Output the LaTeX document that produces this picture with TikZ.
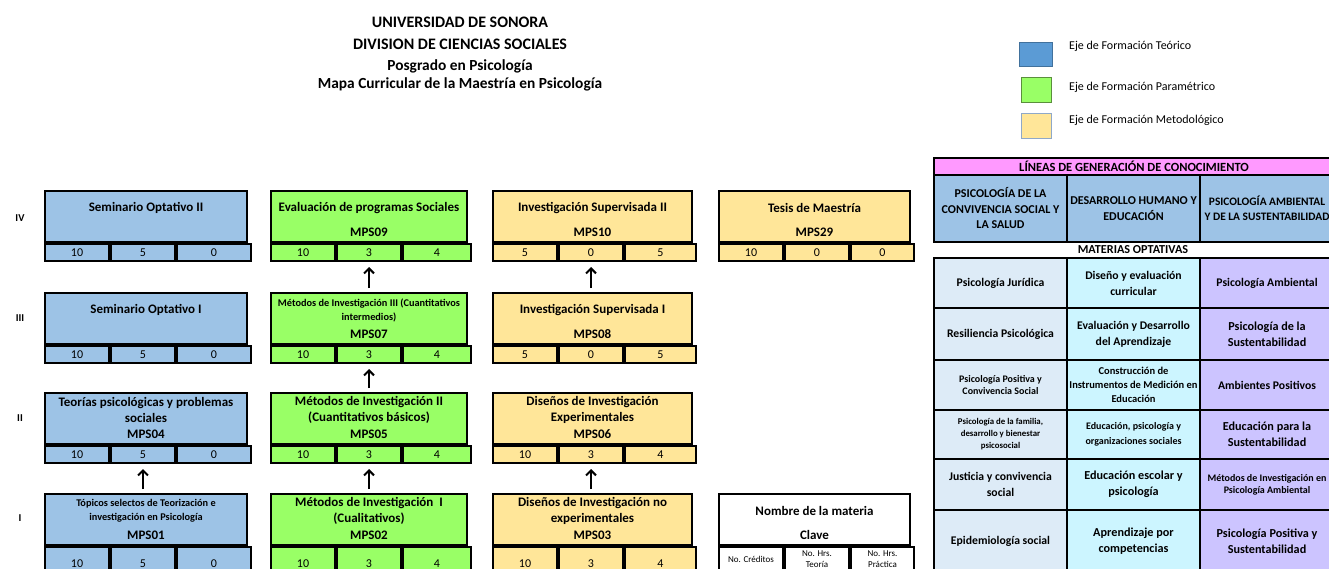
\documentclass[tikz,border=0pt]{standalone}
\usepackage{fontspec}
\setmainfont{Carlito}
\usetikzlibrary{arrows.meta}
\definecolor{tblue}{HTML}{9DC3E6}
\definecolor{tgreen}{HTML}{99FF66}
\definecolor{tyellow}{HTML}{FFE699}
\definecolor{legblue}{HTML}{5B9BD5}
\definecolor{legblueb}{HTML}{41719C}
\definecolor{leggreenb}{HTML}{5A8F3C}
\definecolor{legyellowb}{HTML}{8FA8C8}
\definecolor{pinkh}{HTML}{FF99FF}
\definecolor{colA}{HTML}{DDEBF7}
\definecolor{colB}{HTML}{CCF5FF}
\definecolor{colC}{HTML}{CCC4FF}
\tikzset{
 box/.style={draw, line width=2pt, inner sep=0pt, anchor=north west, minimum height=51},
 cellbox/.style={draw, line width=2pt, inner sep=0pt, anchor=north west, font=\fontsize{12}{14}\selectfont},
 ttl/.style={font=\bfseries\fontsize{13}{16}\selectfont, align=center, inner sep=0pt},
 ttls/.style={font=\bfseries\fontsize{10.3}{14}\selectfont, align=center, inner sep=0pt},
 code/.style={font=\bfseries\fontsize{13}{15}\selectfont, inner sep=0pt},
 arr/.style={-{Straight Barb[length=5pt,width=10pt,line width=2pt]}, line width=2pt, shorten <=4pt, shorten >=5pt},
 rl/.style={font=\bfseries\fontsize{10.5}{12}\selectfont},
 titA/.style={font=\bfseries\fontsize{16}{18}\selectfont},
 titB/.style={font=\bfseries\fontsize{15.4}{18}\selectfont},
 legsq/.style={line width=0.8pt, inner sep=0pt, anchor=north west},
 legtxt/.style={font=\fontsize{12}{14}\selectfont, anchor=west, inner sep=0pt},
 tc/.style={draw, line width=2pt, anchor=north west, align=center, inner sep=1pt},
 ftA/.style={font=\bfseries\fontsize{11.7}{16}\selectfont},
 ftB/.style={font=\bfseries\fontsize{10}{12}\selectfont},
 ftC/.style={font=\bfseries\fontsize{10.5}{14}\selectfont},
 ftD/.style={font=\bfseries\fontsize{8.8}{12}\selectfont},
 ftE/.style={font=\bfseries\fontsize{10}{15}\selectfont},
 ftF/.style={font=\bfseries\fontsize{12.2}{16}\selectfont},
 ftH/.style={font=\bfseries\fontsize{12}{15.5}\selectfont},
 ftHs/.style={font=\bfseries\fontsize{11.4}{15.5}\selectfont},
 smallcell/.style={draw, line width=2pt, inner sep=0pt, anchor=north west, align=center, font=\fontsize{9}{11}\selectfont, minimum height=25},
}
\newcommand\course[8]{%
 \node[box, fill=#5, minimum width=#4] (#1) at (#2,#3) {};
 \node[#6] (#1-t) at ([yshift=-18pt]#1.north) {#7};
 \node[code] (#1-k) at ([yshift=-42pt]#1.north) {#8};
}
\newcommand\cells[7]{%
 \node[cellbox, fill=#2, minimum width=64, minimum height=#3] (#1-a) at (#1.south west) {#5};
 \node[cellbox, fill=#2, minimum width=64, minimum height=#3] (#1-b) at (#1-a.north east) {#6};
 \node[cellbox, fill=#2, minimum width=#4, minimum height=#3] (#1-c) at (#1-b.north east) {#7};
}
\newcommand\orow[9]{%
 \node[tc, fill=colA, minimum width=133, minimum height=#3, #4] (#1a) at (933,#2) {#5};
 \node[tc, fill=colB, minimum width=133, minimum height=#3, #6] (#1b) at (1066,#2) {#7};
 \node[tc, fill=colC, minimum width=134, minimum height=#3, #8] (#1c) at (1199,#2) {#9};
}
\begin{document}
\begin{tikzpicture}[x=1pt,y=-1pt]
\useasboundingbox (0,0) rectangle (1329,569);
\clip (0,0) rectangle (1329,569);
% title
\node[titA] (t1) at (460,22) {UNIVERSIDAD DE SONORA};
\node[titA] (t2) at (460,44) {DIVISION DE CIENCIAS SOCIALES};
\node[titB] (t3) at (460,66) {Posgrado en Psicología};
\node[titB] (t4) at (460,84) {Mapa Curricular de la Maestría en Psicología};
% legend
\node[legsq, draw=legblueb, fill=legblue, minimum width=33, minimum height=24] (lg1) at (1019,42) {};
\node[legtxt] (lg1t) at (1069,46) {Eje de Formación Teórico};
\node[legsq, draw=leggreenb, fill=tgreen, minimum width=30, minimum height=25] (lg2) at (1021,77) {};
\node[legtxt] (lg2t) at (1069,87) {Eje de Formación Paramétrico};
\node[legsq, draw=legyellowb, fill=tyellow, minimum width=30, minimum height=25] (lg3) at (1021,113) {};
\node[legtxt] (lg3t) at (1069,120) {Eje de Formación Metodológico};
% row labels
\node[rl] (rIV) at (20,218) {IV};
\node[rl] (rIII) at (20,318) {III};
\node[rl] (rII) at (20,418) {II};
\node[rl] (rI) at (20,518) {I};
% row IV
\course{so2}{44}{190}{202}{tblue}{ttl}{Seminario Optativo II}{}
\cells{so2}{tblue}{17}{74}{10}{5}{0}
\course{mps09}{270}{190}{196}{tgreen}{ttl}{Evaluación de programas Sociales}{MPS09}
\cells{mps09}{tgreen}{17}{68}{10}{3}{4}
\course{mps10}{492}{190}{199}{tyellow}{ttl}{Investigación Supervisada II}{MPS10}
\cells{mps10}{tyellow}{17}{71}{5}{0}{5}
\course{mps29}{718}{190}{191}{tyellow}{ttl}{Tesis de Maestría}{MPS29}
\cells{mps29}{tyellow}{17}{63}{10}{0}{0}
% row III
\course{so1}{44}{292}{202}{tblue}{ttl}{Seminario Optativo I}{}
\cells{so1}{tblue}{17}{74}{10}{5}{0}
\course{mps07}{270}{292}{196}{tgreen}{ttls}{Métodos de Investigación III (Cuantitativos\\intermedios)}{MPS07}
\cells{mps07}{tgreen}{17}{68}{10}{3}{4}
\course{mps08}{492}{292}{199}{tyellow}{ttl}{Investigación Supervisada I}{MPS08}
\cells{mps08}{tyellow}{17}{71}{5}{0}{5}
% row II
\course{mps04}{44}{392}{202}{tblue}{ttl}{Teorías psicológicas y problemas\\sociales}{MPS04}
\cells{mps04}{tblue}{17}{74}{10}{5}{0}
\course{mps05}{270}{392}{196}{tgreen}{ttl}{Métodos de Investigación II\\(Cuantitativos básicos)}{MPS05}
\cells{mps05}{tgreen}{17}{68}{10}{3}{4}
\course{mps06}{492}{392}{199}{tyellow}{ttl}{Diseños de Investigación\\Experimentales}{MPS06}
\cells{mps06}{tyellow}{17}{71}{10}{3}{4}
% row I
\course{mps01}{44}{493}{202}{tblue}{ttls}{Tópicos selectos de Teorización e\\investigación en Psicología}{MPS01}
\cells{mps01}{tblue}{34}{74}{10}{5}{0}
\course{mps02}{270}{493}{196}{tgreen}{ttl}{Métodos de Investigación\ \ I\\(Cualitativos)}{MPS02}
\cells{mps02}{tgreen}{34}{68}{10}{3}{4}
\course{mps03}{492}{493}{199}{tyellow}{ttl}{Diseños de Investigación no\\experimentales}{MPS03}
\cells{mps03}{tyellow}{34}{71}{10}{3}{4}
\course{nom}{718}{493}{191}{white}{ttl}{Nombre de la materia}{Clave}
\node[smallcell, fill=white, minimum width=64] (nom-a) at (nom.south west) {No. Créditos};
\node[smallcell, fill=white, minimum width=64] (nom-b) at (nom-a.north east) {No. Hrs.\\Teoría};
\node[smallcell, fill=white, minimum width=63] (nom-c) at (nom-b.north east) {No. Hrs.\\Práctica};
% arrows
\draw[arr] (mps01.north -| mps04-b) -- (mps04-b.south);
\draw[arr] (mps02.north -| mps05-b) -- (mps05-b.south);
\draw[arr] (mps05.north -| mps07-b) -- (mps07-b.south);
\draw[arr] (mps07.north -| mps09-b) -- (mps09-b.south);
\draw[arr] (mps03.north -| mps06-b) -- (mps06-b.south);
\draw[arr] (mps08.north -| mps10-b) -- (mps10-b.south);
% right table
\node[tc, fill=pinkh, minimum width=400, minimum height=17, font=\bfseries\fontsize{12.5}{13}\selectfont] (lgc) at (933,157) {LÍNEAS DE GENERACIÓN DE CONOCIMIENTO};
\node[tc, fill=tblue, minimum width=133, minimum height=67, ftH] (h1) at (933,174) {PSICOLOGÍA DE LA\\CONVIVENCIA SOCIAL Y\\LA SALUD};
\node[tc, fill=tblue, minimum width=133, minimum height=67, ftH] (h2) at (1066,174) {DESARROLLO HUMANO Y\\EDUCACIÓN};
\node[tc, fill=tblue, minimum width=134, minimum height=67, ftHs] (h3) at (1199,174) {PSICOLOGÍA AMBIENTAL\\Y DE LA SUSTENTABILIDAD};
\node[font=\bfseries\fontsize{12.2}{13}\selectfont] (mo) at (1133,250) {MATERIAS OPTATIVAS};
\orow{r1}{257}{50}{ftA}{Psicología Jurídica}{ftA}{Diseño y evaluación\\curricular}{ftA}{Psicología Ambiental}
\orow{r2}{307}{52}{ftA}{Resiliencia Psicológica}{ftA}{Evaluación y Desarrollo\\del Aprendizaje}{ftF}{Psicología de la\\Sustentabilidad}
\orow{r3}{359}{50}{ftB}{Psicología Positiva y\\Convivencia Social}{ftC}{Construcción de\\Instrumentos de Medición en\\Educación}{ftA}{Ambientes Positivos}
\orow{r4}{409}{49}{ftD}{Psicología de la familia,\\desarrollo y bienestar\\psicosocial}{ftE}{Educación, psicología y\\organizaciones sociales}{ftF}{Educación para la\\Sustentabilidad}
\orow{r5}{458}{51}{ftA}{Justicia y convivencia\\social}{ftF}{Educación escolar y\\psicología}{ftB}{Métodos de Investigación en\\Psicología Ambiental}
\orow{r6}{509}{62}{ftA}{Epidemiología social}{ftF}{Aprendizaje por\\competencias}{ftF}{Psicología Positiva y\\Sustentabilidad}
\end{tikzpicture}
\end{document}
